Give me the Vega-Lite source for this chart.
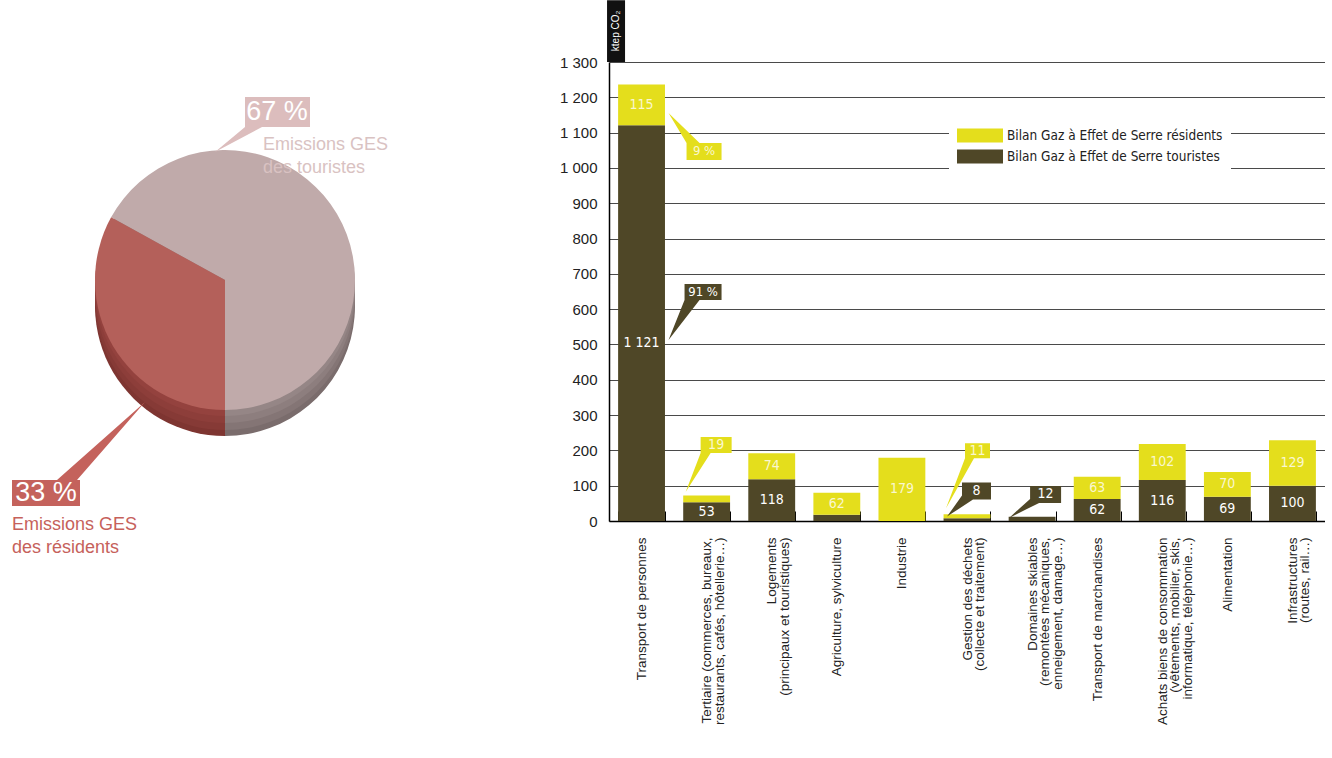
{
  "$schema": "https://vega.github.io/schema/vega-lite/v6.json",
  "padding": 0,
  "background": "white",
  "spacing": 159,
  "bounds": "flush",
  "config": {
    "view": {"stroke": null},
    "font": "Liberation Sans",
    "locale": {"number": {"decimal": ",", "thousands": " ", "grouping": [3], "currency": ["", " €"]}},
    "axisY": {"grid": true, "gridColor": "#4a4a4a", "gridWidth": 1, "domainColor": "#000000", "domainWidth": 1.5, "tickSize": 0, "format": ",d", "labelPadding": 12, "labelFont": "Liberation Sans", "labelFontSize": 15, "labelColor": "#222222"},
    "axisX": {"domainColor": "#000000", "domainWidth": 1.5, "tickColor": "#000000", "tickWidth": 1, "tickSize": -10, "tickBand": "extent", "labelAngle": -90, "labelFont": "Liberation Sans", "labelFontSize": 13.5, "labelLineHeight": 12.5, "labelColor": "#222222", "labelPadding": 26, "labelLimit": 400, "grid": false}
  },
  "datasets": {
    "pie": [
      {"groupe": "Emissions GES\ndes touristes", "share": 67},
      {"groupe": "Emissions GES\ndes résidents", "share": 33}
    ],
    "bars": [
      {"cat": "Transport de personnes", "serie": "Bilan Gaz à Effet de Serre touristes", "value": 1121},
      {"cat": "Transport de personnes", "serie": "Bilan Gaz à Effet de Serre résidents", "value": 115},
      {"cat": "Tertiaire (commerces, bureaux,\nrestaurants, cafés, hôtellerie…)", "serie": "Bilan Gaz à Effet de Serre touristes", "value": 53},
      {"cat": "Tertiaire (commerces, bureaux,\nrestaurants, cafés, hôtellerie…)", "serie": "Bilan Gaz à Effet de Serre résidents", "value": 19},
      {"cat": "Logements\n(principaux et touristiques)", "serie": "Bilan Gaz à Effet de Serre touristes", "value": 118},
      {"cat": "Logements\n(principaux et touristiques)", "serie": "Bilan Gaz à Effet de Serre résidents", "value": 74},
      {"cat": "Agriculture, sylviculture", "serie": "Bilan Gaz à Effet de Serre touristes", "value": 18},
      {"cat": "Agriculture, sylviculture", "serie": "Bilan Gaz à Effet de Serre résidents", "value": 62},
      {"cat": "Industrie", "serie": "Bilan Gaz à Effet de Serre touristes", "value": 0},
      {"cat": "Industrie", "serie": "Bilan Gaz à Effet de Serre résidents", "value": 179},
      {"cat": "Gestion des déchets\n(collecte et traitement)", "serie": "Bilan Gaz à Effet de Serre touristes", "value": 8},
      {"cat": "Gestion des déchets\n(collecte et traitement)", "serie": "Bilan Gaz à Effet de Serre résidents", "value": 11},
      {"cat": "Domaines skiables\n(remontées mécaniques,\nenneigement, damage…)", "serie": "Bilan Gaz à Effet de Serre touristes", "value": 12},
      {"cat": "Domaines skiables\n(remontées mécaniques,\nenneigement, damage…)", "serie": "Bilan Gaz à Effet de Serre résidents", "value": 0},
      {"cat": "Transport de marchandises", "serie": "Bilan Gaz à Effet de Serre touristes", "value": 62},
      {"cat": "Transport de marchandises", "serie": "Bilan Gaz à Effet de Serre résidents", "value": 63},
      {"cat": "Achats biens de consommation\n(vêtements, mobilier, skis,\ninformatique, téléphonie…)", "serie": "Bilan Gaz à Effet de Serre touristes", "value": 116},
      {"cat": "Achats biens de consommation\n(vêtements, mobilier, skis,\ninformatique, téléphonie…)", "serie": "Bilan Gaz à Effet de Serre résidents", "value": 102},
      {"cat": "Alimentation", "serie": "Bilan Gaz à Effet de Serre touristes", "value": 69},
      {"cat": "Alimentation", "serie": "Bilan Gaz à Effet de Serre résidents", "value": 70},
      {"cat": "Infrastructures\n(routes, rail…)", "serie": "Bilan Gaz à Effet de Serre touristes", "value": 100},
      {"cat": "Infrastructures\n(routes, rail…)", "serie": "Bilan Gaz à Effet de Serre résidents", "value": 129}
    ]
  },
  "resolve": {"scale": {"color": "independent"}, "legend": {"color": "independent"}},
  "hconcat": [
    {
      "width": 450,
      "height": 436,
      "data": {"name": "pie"},
      "transform": [{"calculate": "datum.share + ' %'", "as": "pct"}],
      "resolve": {"scale": {"color": "independent"}},
      "layer": [
        {"mark": {"type": "arc", "radius": 130, "yOffset": 26},
         "encoding": {"theta": {"field": "share", "type": "quantitative", "stack": true, "scale": {"range": [3.14159, 9.42478]}},
                      "order": {"field": "groupe", "sort": "ascending"},
                      "color": {"field": "groupe", "type": "nominal", "scale": {"domain": ["Emissions GES\ndes résidents", "Emissions GES\ndes touristes"], "range": ["#7e3531", "#7a6c6c"]}, "legend": null}}},
        {"mark": {"type": "arc", "radius": 130, "yOffset": 20},
         "encoding": {"theta": {"field": "share", "type": "quantitative", "stack": true},
                      "order": {"field": "groupe", "sort": "ascending"},
                      "color": {"field": "groupe", "type": "nominal", "scale": {"domain": ["Emissions GES\ndes résidents", "Emissions GES\ndes touristes"], "range": ["#863a36", "#847575"]}, "legend": null}}},
        {"mark": {"type": "arc", "radius": 130, "yOffset": 13},
         "encoding": {"theta": {"field": "share", "type": "quantitative", "stack": true},
                      "order": {"field": "groupe", "sort": "ascending"},
                      "color": {"field": "groupe", "type": "nominal", "scale": {"domain": ["Emissions GES\ndes résidents", "Emissions GES\ndes touristes"], "range": ["#8d3e3a", "#8d7e7e"]}, "legend": null}}},
        {"mark": {"type": "arc", "radius": 130, "yOffset": 6},
         "encoding": {"theta": {"field": "share", "type": "quantitative", "stack": true},
                      "order": {"field": "groupe", "sort": "ascending"},
                      "color": {"field": "groupe", "type": "nominal", "scale": {"domain": ["Emissions GES\ndes résidents", "Emissions GES\ndes touristes"], "range": ["#94423e", "#958686"]}, "legend": null}}},
        {"mark": {"type": "arc", "radius": 130},
         "encoding": {"theta": {"field": "share", "type": "quantitative", "stack": true},
                      "order": {"field": "groupe", "sort": "ascending"},
                      "color": {"field": "groupe", "type": "nominal", "scale": {"domain": ["Emissions GES\ndes résidents", "Emissions GES\ndes touristes"], "range": ["#b4605a", "#c0aaaa"]}, "legend": null}}},
        {"transform": [{"filter": "test(/touristes/, datum.groupe)"}],
         "layer": [
           {"mark": {"type": "point", "shape": "M20,-183H85V-153H37L-10,-128L20,-153Z", "size": 4, "filled": true, "color": "#dcbdbd", "opacity": 1, "strokeWidth": 0}, "encoding": {}},
           {"mark": {"type": "text", "dx": 52, "dy": -168, "fontSize": 27, "color": "#ffffff", "align": "center", "baseline": "middle"}, "encoding": {"text": {"field": "pct"}}},
           {"mark": {"type": "text", "dx": 38, "dy": -144, "fontSize": 18, "lineHeight": 23, "lineBreak": "\n", "color": "#d9c2c2", "align": "left", "baseline": "top"}, "encoding": {"text": {"field": "groupe"}}}
         ]},
        {"transform": [{"filter": "test(/résidents/, datum.groupe)"}],
         "layer": [
           {"mark": {"type": "point", "shape": "M-213,200H-168L-80,122L-148,200H-145V226H-213Z", "size": 4, "filled": true, "color": "#c4625c", "opacity": 1, "strokeWidth": 0}, "encoding": {}},
           {"mark": {"type": "text", "dx": -179, "dy": 213, "fontSize": 27, "color": "#ffffff", "align": "center", "baseline": "middle"}, "encoding": {"text": {"field": "pct"}}},
           {"mark": {"type": "text", "dx": -213, "dy": 236, "fontSize": 18, "lineHeight": 23, "lineBreak": "\n", "color": "#c6615b", "align": "left", "baseline": "top"}, "encoding": {"text": {"field": "groupe"}}}
         ]}
      ]
    },
    {
      "width": 716,
      "height": 459,
      "data": {"name": "bars"},
      "resolve": {"axis": {"y": "independent"}},
      "transform": [
        {"stack": "value", "groupby": ["cat"], "sort": [{"field": "serie", "order": "descending"}], "as": ["v0", "v1"]},
        {"calculate": "(datum.v0 + datum.v1) / 2", "as": "mid"},
        {"joinaggregate": [{"op": "sum", "field": "value", "as": "total"}], "groupby": ["cat"]},
        {"calculate": "format(datum.value / datum.total * 100, '.0f') + ' %'", "as": "pct"}
      ],
      "encoding": {
        "x": {"field": "cat", "type": "nominal", "sort": null, "title": null,
              "scale": {"paddingInner": 0.28, "paddingOuter": 0.14},
              "axis": {"labelExpr": "split(datum.label, '\\n')"}}
      },
      "layer": [
        {"mark": {"type": "bar"},
         "encoding": {
           "y": {"field": "v0", "type": "quantitative", "scale": {"domain": [0, 1300], "nice": false},
                 "axis": {"title": null, "values": [0, 100, 200, 300, 400, 500, 600, 700, 800, 900, 1000, 1100, 1200, 1300], "labelOverlap": false, "format": ",d"}},
           "y2": {"field": "v1"},
           "color": {"field": "serie", "type": "nominal",
                     "scale": {"domain": ["Bilan Gaz à Effet de Serre résidents", "Bilan Gaz à Effet de Serre touristes"], "range": ["#e4de1c", "#4f4727"]},
                     "legend": {"title": null, "orient": "none", "legendX": 340, "legendY": 55, "fillColor": "#ffffff", "padding": 8,
                                "symbolType": "M-1,-0.3H1V0.3H-1Z", "symbolSize": 2116, "symbolStrokeWidth": 0, "symbolOpacity": 1,
                                "clipHeight": 21, "rowPadding": 0, "labelOffset": 4, "labelLimit": 400,
                                "labelFont": "Liberation Sans Narrow, DejaVu Sans Condensed, Liberation Sans", "labelFontSize": 13.5, "labelColor": "#222222"}}
         }},
        {"transform": [{"filter": "datum.value >= 50 && datum.value < 1000"}],
         "mark": {"type": "text", "font": "Liberation Sans Narrow, DejaVu Sans Condensed, Liberation Sans", "fontSize": 14, "align": "center", "baseline": "middle"},
         "encoding": {
           "y": {"field": "mid", "type": "quantitative", "axis": null},
           "text": {"field": "value", "type": "quantitative", "format": ",d"},
           "color": {"condition": {"test": "test(/résidents/, datum.serie)", "value": "#faf7cf"}, "value": "#ffffff"}
         }},
        {"transform": [{"filter": "datum.value >= 1000"}],
         "mark": {"type": "text", "font": "Liberation Sans Narrow, DejaVu Sans Condensed, Liberation Sans", "fontSize": 14, "align": "center", "baseline": "middle", "dy": 20, "color": "#ffffff"},
         "encoding": {
           "y": {"field": "mid", "type": "quantitative", "axis": null},
           "text": {"field": "value", "type": "quantitative", "format": ",d"}
         }},
        {"transform": [{"filter": "test(/^Tertiaire/, datum.cat) && test(/résidents/, datum.serie)"}],
         "encoding": {"y": {"field": "mid", "type": "quantitative", "axis": null}},
         "layer": [
           {"mark": {"type": "point", "shape": "M-6,-62H25V-46H4L-21,-7L-6,-46Z", "size": 4, "filled": true, "color": "#e4de1c", "opacity": 1, "strokeWidth": 0}},
           {"mark": {"type": "text", "dx": 9.5, "dy": -54, "font": "Liberation Sans Narrow, DejaVu Sans Condensed, Liberation Sans", "fontSize": 14, "align": "center", "baseline": "middle", "color": "#faf7cf"},
            "encoding": {"text": {"field": "value", "type": "quantitative"}}}
         ]},
        {"transform": [{"filter": "test(/^Gestion/, datum.cat) && test(/résidents/, datum.serie)"}],
         "encoding": {"y": {"field": "mid", "type": "quantitative", "axis": null}},
         "layer": [
           {"mark": {"type": "point", "shape": "M-2,-73H23V-58H7L-21,-8L-2,-58Z", "size": 4, "filled": true, "color": "#e4de1c", "opacity": 1, "strokeWidth": 0}},
           {"mark": {"type": "text", "dx": 10.5, "dy": -65.5, "font": "Liberation Sans Narrow, DejaVu Sans Condensed, Liberation Sans", "fontSize": 14, "align": "center", "baseline": "middle", "color": "#faf7cf"},
            "encoding": {"text": {"field": "value", "type": "quantitative"}}}
         ]},
        {"transform": [{"filter": "test(/^Gestion/, datum.cat) && test(/touristes/, datum.serie)"}],
         "encoding": {"y": {"field": "mid", "type": "quantitative", "axis": null}},
         "layer": [
           {"mark": {"type": "point", "shape": "M-5,-37H24V-20H6L-20,-3L-5,-24Z", "size": 4, "filled": true, "color": "#4f4727", "opacity": 1, "strokeWidth": 0}},
           {"mark": {"type": "text", "dx": 9.5, "dy": -28.5, "font": "Liberation Sans Narrow, DejaVu Sans Condensed, Liberation Sans", "fontSize": 14, "align": "center", "baseline": "middle", "color": "#ffffff"},
            "encoding": {"text": {"field": "value", "type": "quantitative"}}}
         ]},
        {"transform": [{"filter": "test(/^Domaines/, datum.cat) && test(/touristes/, datum.serie)"}],
         "encoding": {"y": {"field": "mid", "type": "quantitative", "axis": null}},
         "layer": [
           {"mark": {"type": "point", "shape": "M-2,-33H29V-16H7L-23,-1L-2,-20Z", "size": 4, "filled": true, "color": "#4f4727", "opacity": 1, "strokeWidth": 0}},
           {"mark": {"type": "text", "dx": 13.5, "dy": -24.5, "font": "Liberation Sans Narrow, DejaVu Sans Condensed, Liberation Sans", "fontSize": 14, "align": "center", "baseline": "middle", "color": "#ffffff"},
            "encoding": {"text": {"field": "value", "type": "quantitative"}}}
         ]},
        {"transform": [{"filter": "datum.cat == 'Transport de personnes' && test(/résidents/, datum.serie)"}],
         "encoding": {"y": {"field": "mid", "type": "quantitative", "axis": null}},
         "layer": [
           {"mark": {"type": "point", "shape": "M45,38L27,8L58,38H80V55H45Z", "size": 4, "filled": true, "color": "#e4de1c", "opacity": 1, "strokeWidth": 0}},
           {"mark": {"type": "text", "dx": 62.5, "dy": 46.5, "font": "Liberation Sans Narrow, DejaVu Sans Condensed, Liberation Sans", "fontSize": 13, "align": "center", "baseline": "middle", "color": "#faf7cf"},
            "encoding": {"text": {"field": "pct"}}}
         ]},
        {"transform": [{"filter": "datum.cat == 'Transport de personnes' && test(/touristes/, datum.serie)"}],
         "encoding": {"y": {"field": "mid", "type": "quantitative", "axis": null}},
         "layer": [
           {"mark": {"type": "point", "shape": "M43,-39H80V-23H58L27,17L43,-23Z", "size": 4, "filled": true, "color": "#4f4727", "opacity": 1, "strokeWidth": 0}},
           {"mark": {"type": "text", "dx": 61.5, "dy": -31, "font": "Liberation Sans Narrow, DejaVu Sans Condensed, Liberation Sans", "fontSize": 13, "align": "center", "baseline": "middle", "color": "#ffffff"},
            "encoding": {"text": {"field": "pct"}}}
         ]},
        {"transform": [{"filter": "datum.v0 == 0 && datum.cat == 'Transport de personnes'"}],
         "layer": [
           {"mark": {"type": "bar", "color": "#111111", "width": 18, "xOffset": -25.5},
            "encoding": {"y": {"datum": 1300, "axis": null}, "y2": {"datum": 1475}}},
           {"mark": {"type": "text", "angle": 270, "color": "#ffffff", "fontSize": 10, "xOffset": -25.5, "align": "center", "baseline": "middle"},
            "encoding": {"y": {"datum": 1388, "axis": null}, "text": {"value": "ktep CO₂"}}}
         ]}
      ]
    }
  ]
}
